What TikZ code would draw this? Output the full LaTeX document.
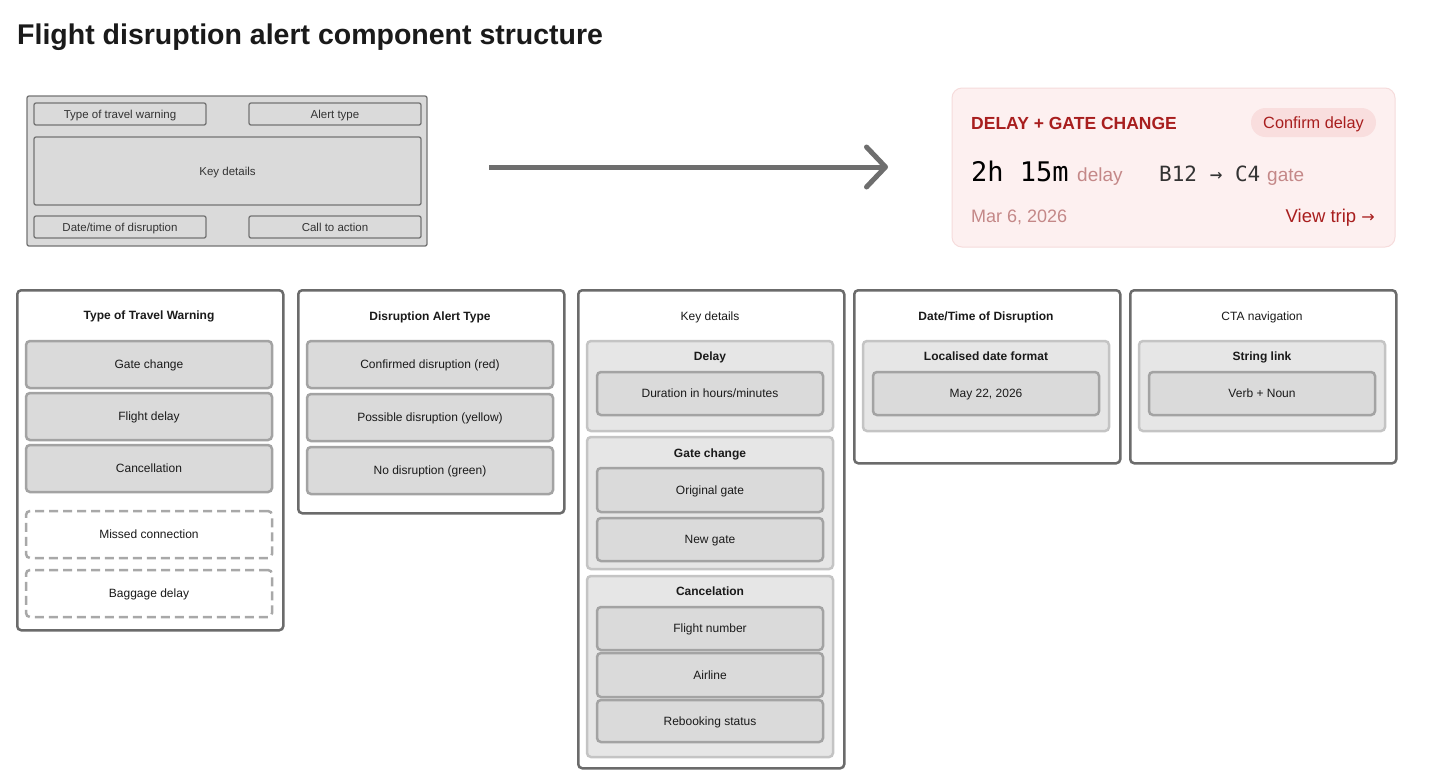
\documentclass[tikz,border=0pt]{standalone}
\usepackage{fontspec}
\setmainfont{Liberation Sans}
\newfontfamily\monof{DejaVu Sans Mono}
\newfontfamily\arrf{DejaVu Sans}
\usetikzlibrary{arrows.meta}
\definecolor{wirefill}{HTML}{DADADA}
\definecolor{wireline}{HTML}{747474}
\definecolor{wiretext}{HTML}{333333}
\definecolor{colline}{HTML}{6B6B6B}
\definecolor{itemfill}{HTML}{DADADA}
\definecolor{itemline}{HTML}{A3A3A3}
\definecolor{groupfill}{HTML}{E6E6E6}
\definecolor{groupline}{HTML}{C4C4C4}
\definecolor{dashline}{HTML}{A8A8A8}
\definecolor{cardfill}{HTML}{FDF0F0}
\definecolor{cardline}{HTML}{F6DCDC}
\definecolor{alertred}{HTML}{A81E1E}
\definecolor{pillfill}{HTML}{F9DEDE}
\definecolor{rose}{HTML}{C48888}
\definecolor{arrowgray}{HTML}{6E6E6E}
\definecolor{inktext}{HTML}{1A1A1A}
\tikzset{
  wirebox/.style={draw=wireline, fill=wirefill, line width=1.3pt, rounded corners=2pt, inner sep=0pt, text=wiretext, font=\fontsize{11.5}{13}\selectfont, text height=8.2pt, text depth=0pt},
  colbox/.style={draw=colline, fill=white, line width=2.5pt, rounded corners=4pt, anchor=north west, inner sep=0pt},
  coltitle/.style={font=\fontsize{12}{14}\selectfont\bfseries, text=inktext, inner sep=0pt, text height=8.6pt, text depth=0pt},
  coltitlereg/.style={font=\fontsize{12}{14}\selectfont, text=inktext, inner sep=0pt, text height=8.6pt, text depth=0pt},
  itembox/.style={draw=itemline, fill=itemfill, line width=2.5pt, rounded corners=4pt, inner sep=0pt, text=inktext, font=\fontsize{12}{14}\selectfont, text height=8.6pt, text depth=0pt},
  dashbox/.style={draw=dashline, fill=white, line width=2.5pt, dash pattern=on 9pt off 5pt, rounded corners=4pt, inner sep=0pt, text=inktext, font=\fontsize{12}{14}\selectfont, text height=8.6pt, text depth=0pt},
  groupbox/.style={draw=groupline, fill=groupfill, line width=2.5pt, rounded corners=4pt, inner sep=0pt},
  cardtext/.style={inner sep=0pt, anchor=base west},
}
\begin{document}
\begin{tikzpicture}[x=1pt,y=-1pt]
\useasboundingbox (0,0) rectangle (1456,780);
\fill[white] (0,0) rectangle (1456,780);

% title
\node[anchor=base west, inner sep=0pt, font=\fontsize{28.5}{32}\selectfont\bfseries, text=inktext] (title) at (17,44) {Flight disruption alert component structure};

% wireframe
\node[wirebox, minimum width=400pt, minimum height=150pt] (wire) at (227,171) {};
\node[wirebox, minimum width=172pt, minimum height=22pt] (wtt) at (120,114) {Type of travel warning};
\node[wirebox, minimum width=172pt, minimum height=22pt] (wat) at (335,114) {Alert type};
\node[wirebox, minimum width=387pt, minimum height=68pt] (wkd) at (227.5,171) {Key details};
\node[wirebox, minimum width=172pt, minimum height=22pt] (wdt) at (120,227) {Date/time of disruption};
\node[wirebox, minimum width=172pt, minimum height=22pt] (wcta) at (335,227) {Call to action};

% arrow
\coordinate (arrA) at (489,167);
\coordinate (arrB) at (888,167);
\draw[arrowgray, line width=5pt, -{Straight Barb[length=19pt, width=40pt, line cap=round, line join=round]}] (arrA) -- (arrB);

% alert card
\node[draw=cardline, fill=cardfill, line width=1pt, rounded corners=10pt, minimum width=443pt, minimum height=159pt, inner sep=0pt] (card) at (1173.5,167.5) {};
\node[cardtext, font=\fontsize{17.5}{20}\selectfont\bfseries, text=alertred] (ctitle) at (971,129) {DELAY + GATE CHANGE};
\node[fill=pillfill, rounded corners=14.5pt, minimum width=125pt, minimum height=29pt, inner sep=0pt, font=\fontsize{16.3}{19}\selectfont, text=alertred, text height=11.6pt, text depth=0pt] (pill) at (1313.5,122.5) {Confirm delay};
\node[cardtext, font=\fontsize{27}{30}\selectfont\monof, text=black] (dur) at (971,181) {2h 15m};
\node[cardtext, font=\fontsize{19}{21}\selectfont, text=rose] (durl) at (1077,181) {delay};
\node[cardtext, font=\fontsize{21}{24}\selectfont\monof, text=black!80] (gates) at (1159,181) {B12 → C4};
\node[cardtext, font=\fontsize{19}{21}\selectfont, text=rose] (gatel) at (1267,181) {gate};
\node[cardtext, font=\fontsize{18}{20}\selectfont, text=rose] (date) at (971,222) {Mar 6, 2026};
\node[inner sep=0pt, anchor=base east, font=\fontsize{18.5}{20}\selectfont, text=alertred] (view) at (1375,222) {View trip {\arrf\fontsize{16}{18}\selectfont →}};

% column 1
\node[colbox, minimum width=266pt, minimum height=340pt] (col1) at (16,289) {};
\node[coltitle] (col1t) at (149,315) {Type of Travel Warning};
\node[itembox, minimum width=246pt, minimum height=47pt] (c1a) at (149,364.5) {Gate change};
\node[itembox, minimum width=246pt, minimum height=47pt] (c1b) at (149,416.5) {Flight delay};
\node[itembox, minimum width=246pt, minimum height=47pt] (c1c) at (149,468.5) {Cancellation};
\node[dashbox, minimum width=246pt, minimum height=47pt] (c1d) at (149,534.5) {Missed connection};
\node[dashbox, minimum width=246pt, minimum height=47pt] (c1e) at (149,593.5) {Baggage delay};

% column 2
\node[colbox, minimum width=266pt, minimum height=223pt] (col2) at (297,289) {};
\node[coltitle] (col2t) at (430,316) {Disruption Alert Type};
\node[itembox, minimum width=246pt, minimum height=47pt] (c2a) at (430,364.5) {Confirmed disruption (red)};
\node[itembox, minimum width=246pt, minimum height=47pt] (c2b) at (430,417.5) {Possible disruption (yellow)};
\node[itembox, minimum width=246pt, minimum height=47pt] (c2c) at (430,470.5) {No disruption (green)};

% column 3
\node[colbox, minimum width=266pt, minimum height=478pt] (col3) at (577,289) {};
\node[coltitlereg] (col3t) at (710,316) {Key details};
\node[groupbox, minimum width=246pt, minimum height=90pt] (g31) at (710,386) {};
\node[coltitle] (g31t) at (710,356) {Delay};
\node[itembox, minimum width=226pt, minimum height=43pt] (c3a) at (710,393.5) {Duration in hours/minutes};
\node[groupbox, minimum width=246pt, minimum height=132pt] (g32) at (710,503) {};
\node[coltitle] (g32t) at (710,453) {Gate change};
\node[itembox, minimum width=226pt, minimum height=44pt] (c3b) at (710,490) {Original gate};
\node[itembox, minimum width=226pt, minimum height=43pt] (c3c) at (710,539.5) {New gate};
\node[groupbox, minimum width=246pt, minimum height=181pt] (g33) at (710,666.5) {};
\node[coltitle] (g33t) at (710,591) {Cancelation};
\node[itembox, minimum width=226pt, minimum height=43pt] (c3d) at (710,628.5) {Flight number};
\node[itembox, minimum width=226pt, minimum height=44pt] (c3e) at (710,675) {Airline};
\node[itembox, minimum width=226pt, minimum height=42pt] (c3f) at (710,721) {Rebooking status};

% column 4
\node[colbox, minimum width=266pt, minimum height=173pt] (col4) at (853,289) {};
\node[coltitle] (col4t) at (986,316) {Date/Time of Disruption};
\node[groupbox, minimum width=246pt, minimum height=90pt] (g41) at (986,386) {};
\node[coltitle] (g41t) at (986,356) {Localised date format};
\node[itembox, minimum width=226pt, minimum height=43pt] (c4a) at (986,393.5) {May 22, 2026};

% column 5
\node[colbox, minimum width=266pt, minimum height=173pt] (col5) at (1129,289) {};
\node[coltitlereg] (col5t) at (1262,316) {CTA navigation};
\node[groupbox, minimum width=246pt, minimum height=90pt] (g51) at (1262,386) {};
\node[coltitle] (g51t) at (1262,356) {String link};
\node[itembox, minimum width=226pt, minimum height=43pt] (c5a) at (1262,393.5) {Verb + Noun};
\end{tikzpicture}
\end{document}
